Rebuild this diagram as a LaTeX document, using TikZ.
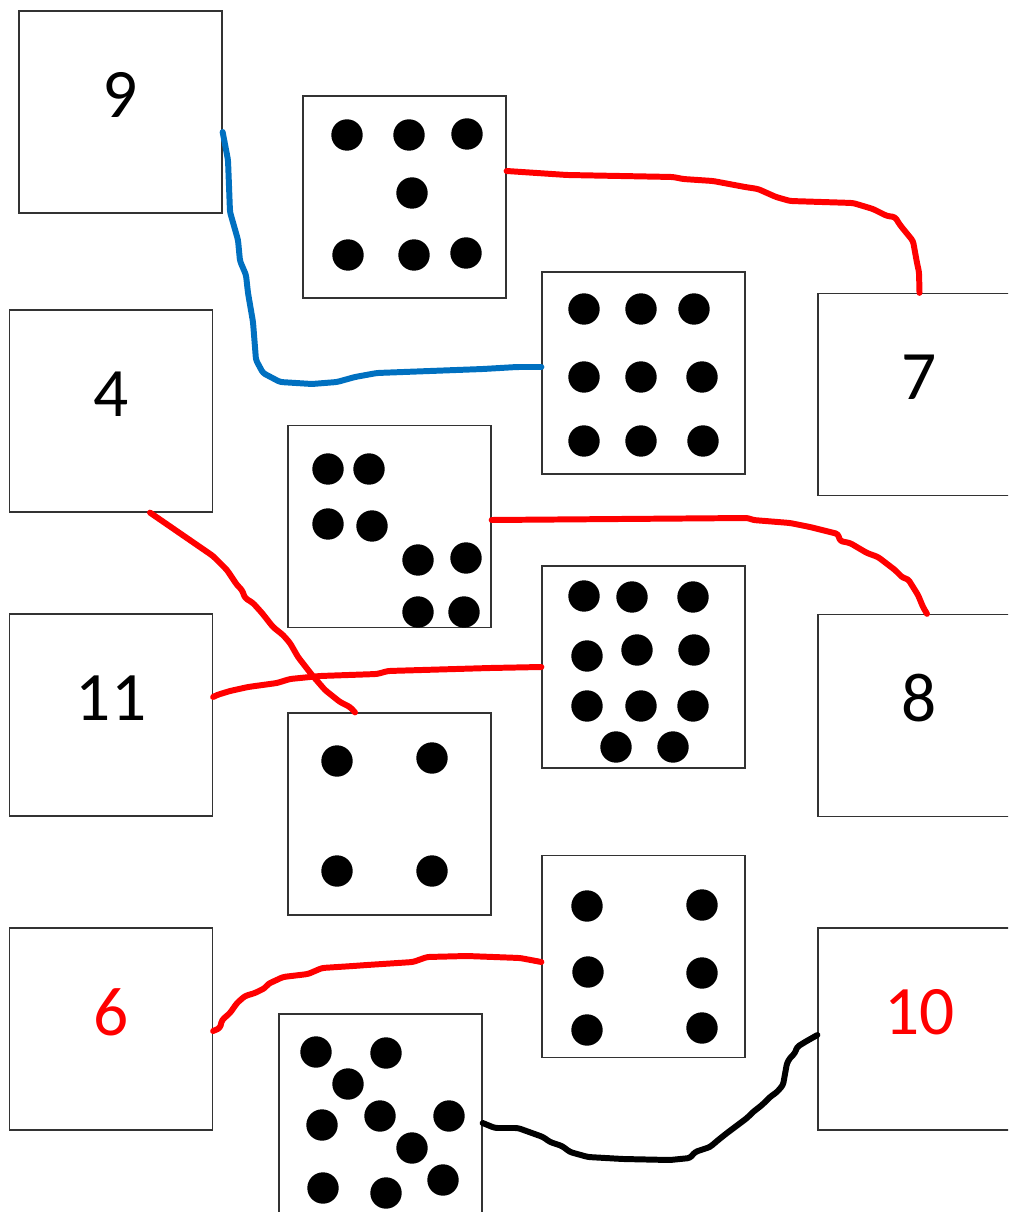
\documentclass[tikz,border=0pt]{standalone}
\usepackage{fontspec}
\setmainfont{Carlito}
\usetikzlibrary{calc,positioning}
\definecolor{inkred}{HTML}{FF0000}
\definecolor{inkblue}{HTML}{0070C0}

\begin{document}
\begin{tikzpicture}[x=0.02cm,y=-0.02cm,
  card/.style={draw=black!80, line width=0.75pt, rectangle, inner sep=0pt, minimum width=4.06cm, minimum height=4.04cm},
  numtxt/.style={inner sep=0pt, font=\fontsize{39.5}{39.5}\selectfont},
  ink/.style={line width=3.4pt, line join=round, line cap=round, rounded corners=1.5pt}]
\clip (0,0) rectangle (1008,1212);

% Number cards
\node[card] (n9) at (120.5,112) {};
\node[card] (n4) at (111,411) {};
\node[card] (n11) at (111,715) {};
\node[card] (n6) at (111,1029) {};
\node[card] (n7) at (919.5,394.5) {};
\node[card] (n8) at (919.5,715.5) {};
\node[card] (n10) at (919.5,1029) {};
\node[numtxt] (t9) at ($(n9.center)+(0,-17)$) {9};
\node[numtxt] (t4) at ($(n4.center)+(0,-17)$) {4};
\node[numtxt] (t11) at ($(n11.center)+(0,-17)$) {11};
\node[numtxt, text=inkred] (t6) at ($(n6.center)+(0,-17)$) {6};
\node[numtxt] (t7) at ($(n7.center)+(0,-17)$) {7};
\node[numtxt] (t8) at ($(n8.center)+(0,-17)$) {8};
\node[numtxt, text=inkred] (t10) at ($(n10.center)+(0,-17)$) {10};

% Dot cards
\node[card] (d7) at (404.5,197) {};
\node[card] (d9) at (643.5,373) {};
\node[card] (d6a) at (389.5,526.5) {};
\node[card] (d11) at (643.5,667) {};
\node[card] (d4) at (389.5,814) {};
\node[card] (d6b) at (643.5,956.5) {};
\node[card] (d10) at (380.5,1115) {};

% Dots
\foreach \x/\y in {347/135, 409/135, 467/134, 412/193, 348/255, 414/255, 466/253} \fill (\x,\y) circle[radius=0.314cm];
\foreach \x/\y in {584/309, 641/309, 694/309, 584/377, 641/377, 702/377, 584/441, 641/441, 703/441} \fill (\x,\y) circle[radius=0.314cm];
\foreach \x/\y in {328/469, 369/469, 328/524, 372/526, 418/560, 466/558, 418/612, 464/612} \fill (\x,\y) circle[radius=0.314cm];
\foreach \x/\y in {584/596, 632/597, 693/597, 587/656, 637/650, 694/650, 587/706, 641/706, 693/706, 616/747, 673/747} \fill (\x,\y) circle[radius=0.314cm];
\foreach \x/\y in {337/761, 432/758, 337/871, 432/871} \fill (\x,\y) circle[radius=0.314cm];
\foreach \x/\y in {587/906, 702/905, 588/972, 702/973, 587/1030, 702/1028} \fill (\x,\y) circle[radius=0.314cm];
\foreach \x/\y in {316/1052, 386/1053, 348/1084, 322/1125, 380/1116, 449/1116, 412/1148, 323/1188, 386/1193, 443/1180} \fill (\x,\y) circle[radius=0.314cm];

% Matches
\draw[ink, inkblue] ($(n9.east)+(0,20)$) -- (228,160) -- (230,212) -- (238,240) -- (240,261) -- (246,275) -- (248,293) -- (253,322) -- (256,360) -- (263,373) -- (280,382) -- (312,384) -- (337,382) -- (355,377) -- (377,373) -- (430,371) -- (483,369) -- (517,367) -- ($(d9.west)+(0,-6)$);
\draw[ink, inkred] ($(d7.east)+(0,-26)$) -- (567,175) -- (673,177) -- (683,179) -- (713,181) -- (745,187) -- (758,189) -- (776,197) -- (790,201) -- (853,203) -- (873,209) -- (887,216) -- (895,217) -- (900,225) -- (913,241) -- (917,263) -- (919,272) -- (n7.north);
\draw[ink, inkred] ($(n4.south)+(39,0)$) -- (213,556) -- (227,570) -- (237,585) -- (242,590) -- (245,598) -- (253,603) -- (262,613) -- (273,627) -- (283,635) -- (290,643) -- (298,657) -- (312,675) -- (325,690) -- (340,702) -- (350,707) -- ($(d4.north)+(-34.5,0)$);
\draw[ink, inkred] ($(n11.east)+(0,-18)$) -- (217,695) -- (230,691) -- (248,687) -- (277,683) -- (290,679) -- (320,676) -- (377,674) -- (388,671) -- (490,668) -- (d11.west);
\draw[ink, inkred] ($(d6a.east)+(0,-6.5)$) -- (748,518) -- (753,520) -- (790,523) -- (810,527) -- (838,534) -- (840,541) -- (850,543) -- (867,553) -- (878,557) -- (895,570) -- (903,578) -- (908,579) -- (918,595) -- (923,607) -- ($(n8.north)+(7.5,0)$);
\draw[ink, inkred] ($(n6.east)+(0,2)$) -- (220,1028) -- (222,1020) -- (230,1013) -- (237,1003) -- (245,996) -- (255,993) -- (265,988) -- (268,984) -- (283,977) -- (308,974) -- (322,968) -- (353,966) -- (367,965) -- (413,962) -- (427,957) -- (467,956) -- (520,958) -- ($(d6b.west)+(0,5.5)$);
\draw[ink, black] ($(d10.east)+(0,8)$) -- (495,1128) -- (518,1128) -- (543,1137) -- (550,1142) -- (562,1146) -- (570,1152) -- (588,1157) -- (623,1159) -- (670,1160) -- (690,1158) -- (695,1152) -- (710,1147) -- (717,1141) -- (727,1133) -- (747,1118) -- (753,1112) -- (762,1105) -- (770,1097) -- (777,1092) -- (783,1085) -- (787,1063) -- (790,1058) -- (795,1053) -- (797,1047) -- (805,1042) -- ($(n10.west)+(0,6)$);
\end{tikzpicture}
\end{document}
